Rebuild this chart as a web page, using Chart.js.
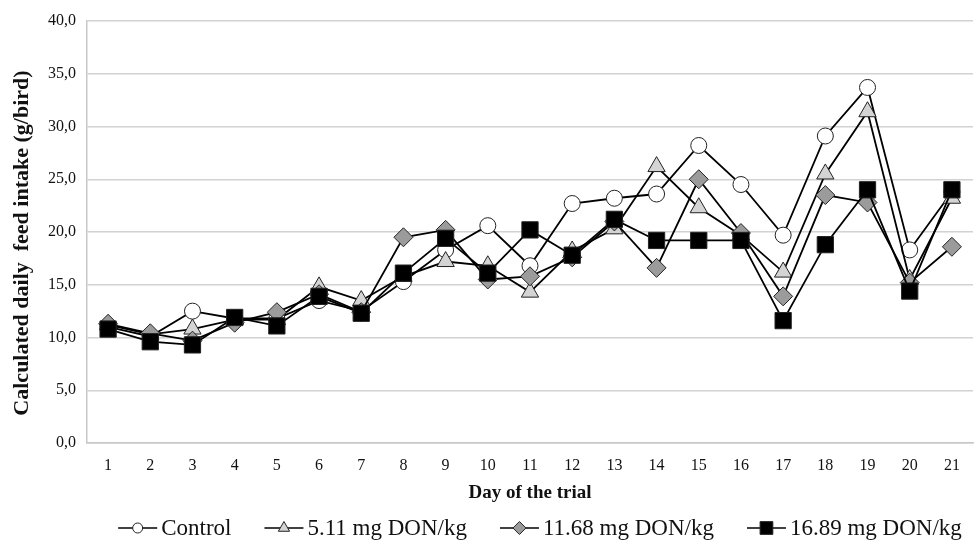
<!DOCTYPE html>
<html>
<head>
<meta charset="utf-8">
<script src="https://cdn.jsdelivr.net/npm/chart.js@4"></script>
<style>
html,body{margin:0;padding:0;background:#fff;}
#wrap{width:975px;height:540px;position:relative;}
</style>
</head>
<body>
<div id="wrap"><canvas id="c" width="975" height="540"></canvas></div>
<script>
const days = ['1','2','3','4','5','6','7','8','9','10','11','12','13','14','15','16','17','18','19','20','21'];
const seriesNames = ['Control', '5.11 mg DON/kg', '11.68 mg DON/kg', '16.89 mg DON/kg'];
const control = [11.0,10.1,12.5,11.8,11.8,13.5,12.5,15.3,18.3,20.6,16.8,22.7,23.2,23.6,28.2,24.5,19.7,29.1,33.7,18.3,23.8];
const don511 = [11.2,10.3,10.8,11.7,11.7,14.8,13.5,15.8,17.2,16.8,14.3,18.2,20.3,26.2,22.3,19.7,16.2,25.5,31.4,15.5,23.2];
const don1168 = [11.3,10.4,9.7,11.4,12.4,14.1,12.4,19.5,20.2,15.5,15.8,17.6,21.0,16.6,25.0,19.9,13.9,23.5,22.8,15.2,18.6];
const don1689 = [10.8,9.6,9.3,11.9,11.1,13.9,12.3,16.1,19.4,16.1,20.2,17.8,21.2,19.2,19.2,19.2,11.6,18.8,24.0,14.4,24.0];
const yTicks = [0,5,10,15,20,25,30,35,40];
const yTitle = 'Calculated daily  feed intake (g/bird)    ';
const xTitle = 'Day of the trial';

const styles = [
  {pointStyle:'circle', fill:'#ffffff', r:8, lr:5},
  {pointStyle:'triangle', fill:'#d4d4d4', r:10, lr:6.5},
  {pointStyle:'rectRot', fill:'#9b9b9b', r:9.5, lr:6.5},
  {pointStyle:'rect', fill:'#000000', r:11.5, lr:9}
];
const values = [control, don511, don1168, don1689];

const datasets = values.map((v,i)=>({
  label: seriesNames[i],
  data: v,
  borderColor:'#000',
  borderWidth:1.8,
  pointStyle: styles[i].pointStyle,
  pointRadius: styles[i].r,
  pointHoverRadius: styles[i].r,
  pointBackgroundColor: styles[i].fill,
  pointBorderColor:'#222',
  pointBorderWidth:1,
  fill:false,
  tension:0,
  clip:false,
  order: 3 - i
}));

const SERIF = '"Liberation Serif","Times New Roman",serif';

const legendPlugin = {
  id:'customLegend',
  afterDraw(chart){
    const ctx = chart.ctx;
    const ca = chart.chartArea;
    ctx.save();
    ctx.font = '23px ' + SERIF;
    const lineLen = 39, gapText = 4, gapItem = 33;
    const widths = seriesNames.map(n=>ctx.measureText(n).width);
    let total = 0;
    widths.forEach((w,i)=>{ total += lineLen + gapText + w + (i<widths.length-1?gapItem:0); });
    let x = (ca.left + ca.right)/2 + 10 - total/2;
    const y = 528;
    seriesNames.forEach((n,i)=>{
      ctx.strokeStyle = '#000';
      ctx.lineWidth = 1.6;
      ctx.beginPath(); ctx.moveTo(x, y); ctx.lineTo(x+lineLen, y); ctx.stroke();
      ctx.fillStyle = styles[i].fill;
      ctx.strokeStyle = '#222';
      ctx.lineWidth = 1;
      Chart.helpers.drawPoint(ctx, {pointStyle: styles[i].pointStyle, radius: styles[i].lr, rotation:0, borderWidth:1}, x+lineLen/2, y);
      ctx.fillStyle = '#111';
      ctx.textBaseline = 'middle';
      ctx.textAlign = 'left';
      ctx.fillText(n, x+lineLen+gapText, y+1);
      x += lineLen + gapText + widths[i] + gapItem;
    });
    ctx.restore();
  }
};

new Chart(document.getElementById('c'), {
  type:'line',
  data:{labels:days, datasets},
  plugins:[legendPlugin],
  options:{
    responsive:false,
    animation:false,
    layout:{autoPadding:false, padding:{top:21,right:2,left:0,bottom:0}},
    plugins:{legend:{display:false}, tooltip:{enabled:false}},
    scales:{
      x:{
        offset:true,
        grid:{display:false, drawTicks:false},
        border:{display:true, color:'#c8c8c8', width:1.5},
        ticks:{color:'#111', font:{family:SERIF, size:16}, padding:13, maxRotation:0, autoSkip:false},
        title:{display:true, text:xTitle, color:'#111', font:{family:SERIF, size:19, weight:'bold', lineHeight:1}, padding:{top:0,bottom:37}},
        afterFit(s){ s.height = 97; s.paddingRight = 0; s.paddingLeft = 0; }
      },
      y:{
        min:0, max:40,
        afterBuildTicks(s){ s.ticks = yTicks.map(v=>({value:v})); },
        grid:{color:'#d2d2d2', lineWidth:1.5, drawTicks:false},
        border:{display:true, color:'#c8c8c8', width:1.5},
        ticks:{color:'#111', font:{family:SERIF, size:16}, padding:11, callback:v=>v.toFixed(1).replace('.',',')},
        title:{display:true, text:yTitle, color:'#111', font:{family:SERIF, size:22, weight:'bold', lineHeight:1}, padding:{top:11,bottom:0}},
        afterFit(s){ s.width = 87; }
      }
    }
  }
});
</script>
</body>
</html>
